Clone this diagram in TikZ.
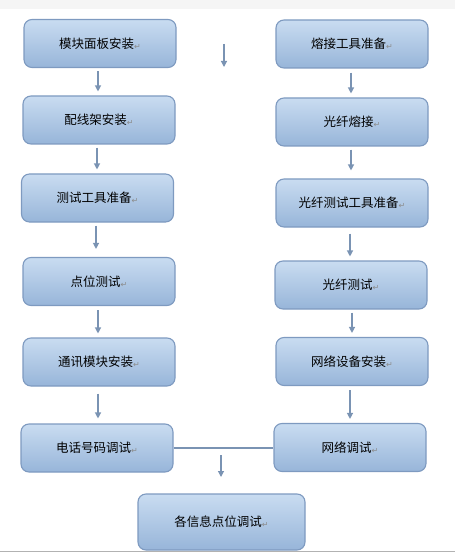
\documentclass[tikz,border=0pt]{standalone}
\usepackage{fontspec}
\newfontfamily\cjk{Noto Sans CJK SC}
\newfontfamily\dvs{DejaVu Sans}
\usetikzlibrary{arrows.meta}
\definecolor{boxtop}{HTML}{C9DCF1}
\definecolor{boxbot}{HTML}{97B5D9}
\definecolor{boxline}{HTML}{7E9AC0}
\definecolor{arr}{HTML}{7A93B3}
\newcommand{\pmark}{{\dvs\fontsize{8}{8}\selectfont\color{gray!90}\raisebox{-1pt}{↵}}}
\tikzset{
  x=1pt,y=-1pt,
  stepbox/.style={draw=boxline,line width=1.1pt,rounded corners=8pt,
    top color=boxtop,bottom color=boxbot,minimum width=152pt,minimum height=48pt,
    inner sep=0pt,font=\cjk\fontsize{12.5}{14}\selectfont},
  flow/.style={draw=arr,line width=1.2pt,-{Triangle[length=6pt,width=6pt]}},
  link/.style={draw=arr,line width=1.2pt}
}
\begin{document}
\begin{tikzpicture}
\useasboundingbox (0,0) rectangle (455,553);
\fill[gray!8] (0,0) rectangle (455,9);
\draw[gray!60,line width=0.8pt] (0,551.5) -- (455,551.5);
% left column
\node[stepbox] (l1) at (100,43.5) {模块面板安装\pmark};
\node[stepbox] (l2) at (99,120) {配线架安装\pmark};
\node[stepbox] (l3) at (97.5,198) {测试工具准备\pmark};
\node[stepbox] (l4) at (99,281.5) {点位测试\pmark};
\node[stepbox] (l5) at (99,362) {通讯模块安装\pmark};
\node[stepbox] (l6) at (97,448) {电话号码调试\pmark};
% right column
\node[stepbox] (r1) at (352,44) {熔接工具准备\pmark};
\node[stepbox] (r2) at (352,122) {光纤熔接\pmark};
\node[stepbox] (r3) at (352,203) {光纤测试工具准备\pmark};
\node[stepbox] (r4) at (351,285) {光纤测试\pmark};
\node[stepbox] (r5) at (352,361.5) {网络设备安装\pmark};
\node[stepbox] (r6) at (350,447.5) {网络调试\pmark};
% bottom
\node[stepbox,minimum width=167pt,minimum height=56pt] (b) at (221.5,522) {各信息点位调试\pmark};
% arrows left
\draw[flow] ([yshift=-3pt]l1.south -| 98,0) -- ([yshift=4pt]l2.north -| 98,0);
\draw[flow] ([yshift=-3pt]l2.south -| 97,0) -- ([yshift=4pt]l3.north -| 97,0);
\draw[flow] ([yshift=-3pt]l3.south -| 96,0) -- ([yshift=8pt]l4.north -| 96,0);
\draw[flow] ([yshift=-4pt]l4.south -| 98,0) -- ([yshift=4pt]l5.north -| 98,0);
\draw[flow] ([yshift=-7pt]l5.south -| 98,0) -- ([yshift=5pt]l6.north -| 98,0);
% arrows right
\draw[flow] ([yshift=-4pt]r1.south -| 351,0) -- ([yshift=4pt]r2.north -| 351,0);
\draw[flow] ([yshift=-3pt]r2.south -| 351,0) -- ([yshift=8pt]r3.north -| 351,0);
\draw[flow] ([yshift=-6pt]r3.south -| 350,0) -- ([yshift=4pt]r4.north -| 350,0);
\draw[flow] ([yshift=-3pt]r4.south -| 352,0) -- ([yshift=4pt]r5.north -| 352,0);
\draw[flow] ([yshift=-4pt]r5.south -| 350,0) -- ([yshift=4pt]r6.north -| 350,0);
% middle
\coordinate (m1) at (224,44);
\coordinate (m2) at (224,67);
\draw[flow] (m1) -- (m2);
\draw[link] (l6.east) -- (l6.east -| r6.west);
\coordinate (m3) at (221,455);
\coordinate (m4) at (221,477);
\draw[flow] (m3) -- (m4);
\end{tikzpicture}
\end{document}
